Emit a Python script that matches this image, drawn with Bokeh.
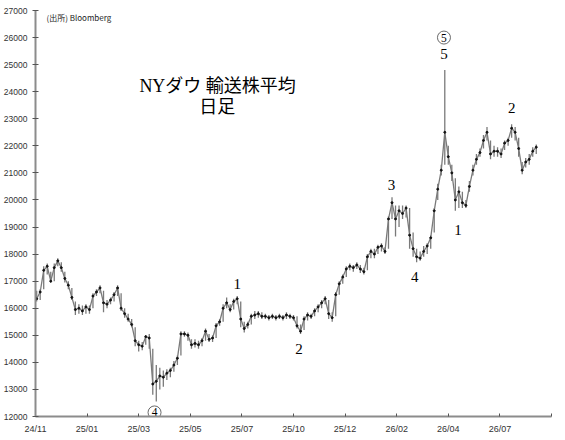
import numpy as np
from bokeh.plotting import figure
from bokeh.models import ColumnDataSource, FixedTicker, Range1d
from bokeh.core.properties import value
from bokeh.embed import file_html
from bokeh.resources import INLINE

# ---- data (one sample every 3 trading days) ----
close_vals = [16350, 16600, 17400, 17550, 17000, 17500, 17750, 17500, 17100, 16850,
              16400, 15950, 16000, 15900, 16050, 15950, 16450, 16600, 16750, 16200,
              16150, 16300, 16500, 16750, 16000, 15800, 15600, 15400, 14800, 14650,
              14600, 14950, 14900, 13200, 13300, 13500, 13450, 13600, 13700, 13900,
              14150, 15050, 15050, 15000, 14650, 14700, 14650, 14800, 15150, 14850,
              14900, 15350, 15500, 16000, 16200, 15950, 16250, 16350, 15600, 15250,
              15400, 15700, 15750, 15800, 15700, 15700, 15650, 15700, 15650, 15700,
              15650, 15750, 15700, 15650, 15350, 15150, 15600, 15750, 15700, 15900,
              16050, 16200, 16350, 15800, 15650, 16500, 16900, 17150, 17450, 17550,
              17500, 17600, 17450, 17350, 17900, 18100, 18000, 18250, 18300, 18100,
              19300, 19900, 19300, 19600, 19500, 19700, 18700, 18200, 17900, 17850,
              18100, 18300, 18600, 19600, 20400, 21100, 22500, 21600, 21000, 20000,
              20300, 19900, 19800, 20500, 21100, 21500, 21750, 22200, 22500, 21700,
              21800, 21800, 21700, 22100, 22200, 22650, 22500, 21900, 21100, 21400,
              21500, 21800, 21950]
high_vals = [16650, 16700, 17550, 17650, 17350, 17650, 17850, 17700, 17350, 17000,
             16750, 16250, 16150, 16100, 16150, 16100, 16550, 16700, 16850, 16650,
             16300, 16400, 16600, 16850, 16550, 16000, 15800, 15600, 15300, 14800,
             14750, 15000, 15050, 14500, 13900, 13800, 13700, 13750, 13800, 14050,
             14250, 15150, 15150, 15100, 14850, 14850, 14800, 14900, 15250, 15050,
             15000, 15450, 15600, 16150, 16400, 16150, 16350, 16450, 16250, 15500,
             15500, 15800, 15900, 15900, 15850, 15800, 15750, 15800, 15750, 15800,
             15750, 15850, 15800, 15750, 15700, 15400, 15700, 15850, 15800, 16000,
             16150, 16300, 16450, 16300, 15850, 16600, 17000, 17250, 17550, 17650,
             17600, 17700, 17600, 17500, 18000, 18200, 18200, 18350, 18400, 18250,
             19400, 20100, 19800, 19800, 19800, 19800, 19700, 18800, 18200, 18100,
             18300, 18400, 18700, 19700, 20600, 21300, 24800, 22000, 21300, 20800,
             20500, 20300, 20000, 20700, 21300, 21700, 21900, 22400, 22700, 22200,
             22000, 21950, 21900, 22200, 22300, 22800, 22700, 22300, 21400, 21550,
             21700, 21950, 22050]
low_vals = [16250, 16300, 16700, 17250, 16950, 17000, 17550, 17350, 16950, 16700,
            16300, 15750, 15800, 15750, 15800, 15800, 16000, 16450, 16550, 15850,
            16000, 16150, 16250, 16450, 15900, 15650, 15500, 15300, 14600, 14400,
            14450, 14650, 14500, 12800, 12550, 13000, 13100, 13350, 13450, 13650,
            13900, 14250, 14950, 14800, 14500, 14550, 14500, 14600, 14800, 14750,
            14750, 14900, 15350, 15500, 16000, 15850, 15950, 16150, 15300, 15100,
            15250, 15400, 15600, 15650, 15600, 15600, 15550, 15600, 15550, 15600,
            15550, 15600, 15600, 15550, 15250, 15050, 15200, 15550, 15600, 15700,
            15850, 16000, 16150, 15600, 15500, 15700, 16500, 16900, 17150, 17400,
            17350, 17450, 17300, 17250, 17400, 17850, 17850, 18000, 18100, 18000,
            18200, 19300, 18650, 19000, 19300, 19350, 18200, 17900, 17700, 17750,
            17900, 18000, 18200, 18800, 20000, 20900, 21300, 21300, 20700, 19600,
            19700, 19700, 19700, 20300, 20900, 21300, 21600, 21900, 22200, 21500,
            21600, 21600, 21550, 21850, 22000, 22300, 22200, 21600, 20950, 21200,
            21300, 21600, 21700]
tick_labels = ["24/11", "25/01", "25/03", "25/05", "25/07",
               "25/10", "25/12", "26/02", "26/04", "26/07"]
y_ticks = list(range(12000, 27001, 1000))

days_per_tick = 44
step = 3
n_ticks = len(tick_labels) + 1
x = np.arange(len(close_vals)) * step + 1

src = ColumnDataSource(dict(x=x, close=close_vals, high=high_vals, low=low_vals))

p = figure(width=565, height=440, output_backend="svg", toolbar_location=None,
           x_range=Range1d(0, days_per_tick * (n_ticks - 1)),
           y_range=Range1d(12000, 27000),
           min_border_left=34, min_border_right=14,
           min_border_top=10, min_border_bottom=24)
p.outline_line_color = None
p.xgrid.visible = False
p.ygrid.visible = False
p.background_fill_color = "white"
p.border_fill_color = "white"

axis_col = "#8c8c8c"
# y axis
p.yaxis.ticker = FixedTicker(ticks=y_ticks)
p.yaxis.axis_line_color = axis_col
p.yaxis.axis_line_width = 2
p.yaxis.major_tick_line_color = "#555555"
p.yaxis.major_tick_in = 3
p.yaxis.major_tick_out = 3
p.yaxis.minor_tick_line_color = None
p.yaxis.major_label_standoff = 5
p.yaxis.major_label_text_font = "Liberation Sans"
p.yaxis.major_label_text_font_size = "8.5px"
p.yaxis.major_label_text_color = "#333333"

# x axis
xt = [i * days_per_tick for i in range(n_ticks)]
p.xaxis.ticker = FixedTicker(ticks=xt)
overrides = {xt[i]: tick_labels[i] for i in range(len(tick_labels))}
overrides[xt[-1]] = ""
p.xaxis.major_label_overrides = overrides
p.xaxis.axis_line_color = axis_col
p.xaxis.axis_line_width = 2
p.xaxis.major_tick_line_color = "#555555"
p.xaxis.major_tick_in = 3
p.xaxis.major_tick_out = 0
p.xaxis.minor_tick_line_color = None
p.xaxis.major_label_standoff = 7
p.xaxis.major_label_text_font = "Liberation Sans"
p.xaxis.major_label_text_font_size = "9px"
p.xaxis.major_label_text_color = "#333333"

# price trace: high-low bars, connecting line and close marks
p.segment(x0="x", y0="low", x1="x", y1="high", source=src,
          line_color="#7a7a7a", line_width=1.3)
p.line(x="x", y="close", source=src, line_color="#7a7a7a", line_width=1.3)
p.scatter(x="x", y="close", source=src, size=2, color="#111111")

title_font = value("'Liberation Serif', 'Noto Sans CJK JP'")

# title
p.text(x=[155.3, 154.9], y=[24207, 23450], text=["NYダウ 輸送株平均", "日足"],
       text_font=title_font, text_font_size="18px", text_align="center",
       text_baseline="middle", text_color="black")

# source
p.text(x=[9.4], y=[26740], text=["(出所) Bloomberg"],
       text_font=value("Noto Sans CJK JP"), text_font_size="8px",
       text_align="left", text_baseline="middle", text_color="#222222")

# wave labels
wx = [172.0, 224.7, 303.6, 323.4, 348.3, 360.3, 406.0]
wy = [16900, 14500, 20550, 17150, 25400, 18900, 23380]
wt = ["1", "2", "3", "4", "5", "1", "2"]
p.text(x=wx, y=wy, text=wt, text_font=value("Liberation Serif"),
       text_font_size="15px", text_align="center", text_baseline="middle",
       text_color="black")

# circled wave labels
cx = [101.5, 348.3]
cy = [12150, 26000]
p.scatter(x=cx, y=cy, size=13, fill_color="white", line_color="#444444",
          line_width=0.8)
p.text(x=cx, y=cy, text=["4", "5"], text_font=value("Liberation Serif"),
       text_font_size="11.5px", text_align="center", text_baseline="middle",
       text_color="black")

open("out.html", "w").write(file_html(p, INLINE))
